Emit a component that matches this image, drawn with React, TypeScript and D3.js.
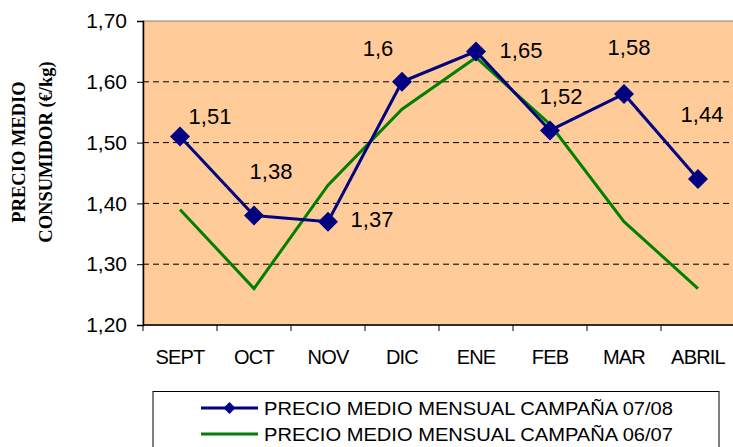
import React, { useEffect, useRef } from "react";
import * as d3 from "d3";

const months = ["SEPT", "OCT", "NOV", "DIC", "ENE", "FEB", "MAR", "ABRIL"];
const campaign0708 = [1.51, 1.38, 1.37, 1.6, 1.65, 1.52, 1.58, 1.44];
const campaign0607 = [1.39, 1.26, 1.43, 1.555, 1.64, 1.53, 1.37, 1.26];
const yTicks = [1.2, 1.3, 1.4, 1.5, 1.6, 1.7];
const labels0708 = ["1,51", "1,38", "1,37", "1,6", "1,65", "1,52", "1,58", "1,44"];
const seriesNames = [
  "PRECIO MEDIO MENSUAL CAMPAÑA 07/08",
  "PRECIO MEDIO MENSUAL CAMPAÑA 06/07",
];
// desplazamiento de cada etiqueta respecto a su punto (como en el original)
const labelOffsets: [number, number][] = [
  [30, -20],
  [17, -44],
  [44, -2],
  [-24, -33],
  [45, -1],
  [11, -34],
  [5, -46],
  [4, -65],
];

const App: React.FC = () => {
  const ref = useRef<SVGSVGElement | null>(null);

  useEffect(() => {
    if (!ref.current) return;
    const svg = d3.select(ref.current);
    svg.selectAll("*").remove();

    const left = 143;
    const right = 735;
    const top = 21;
    const bottom = 325;

    const x = d3.scaleBand<string>().domain(months).range([left, right]);
    const y = d3.scaleLinear().domain([1.2, 1.7]).range([bottom, top]);
    const cx = (i: number) => (x(months[i]) as number) + x.bandwidth() / 2;

    const locale = d3.formatLocale({
      decimal: ",",
      thousands: ".",
      grouping: [3],
      currency: ["", "€"],
    });
    const fmt = locale.format(".2f");

    // fondo del área de trazado
    svg
      .append("rect")
      .attr("x", left)
      .attr("y", top)
      .attr("width", right - left)
      .attr("height", bottom - top)
      .attr("fill", "#FFCC99")
      .attr("stroke", "#808080")
      .attr("stroke-width", 1);

    // líneas de división
    svg
      .append("g")
      .selectAll("line")
      .data(yTicks.filter((t) => t > 1.2 && t < 1.7))
      .join("line")
      .attr("x1", left)
      .attr("x2", right)
      .attr("y1", (d) => y(d))
      .attr("y2", (d) => y(d))
      .attr("stroke", "#000")
      .attr("stroke-width", 1)
      .attr("stroke-dasharray", "6,4");

    // eje Y
    const yAxis = svg
      .append("g")
      .attr("transform", `translate(${left},0)`)
      .call(
        d3
          .axisLeft(y)
          .tickValues(yTicks)
          .tickFormat((d) => fmt(d as number))
          .tickSize(6)
          .tickPadding(10)
      );
    yAxis.select(".domain").attr("stroke", "#000").attr("stroke-width", 1.5);
    yAxis.selectAll(".tick line").attr("stroke", "#000");
    yAxis
      .selectAll(".tick text")
      .attr("font-family", "Arial, 'Liberation Sans', sans-serif")
      .attr("font-size", 21)
      .attr("fill", "#000");

    // eje X
    const xAxis = svg
      .append("g")
      .attr("transform", `translate(0,${bottom})`);
    xAxis
      .append("line")
      .attr("x1", left)
      .attr("x2", right)
      .attr("stroke", "#000")
      .attr("stroke-width", 1.5);
    xAxis
      .selectAll(".tk")
      .data(months)
      .join("line")
      .attr("class", "tk")
      .attr("x1", (d) => x(d) as number)
      .attr("x2", (d) => x(d) as number)
      .attr("y1", 0)
      .attr("y2", 6)
      .attr("stroke", "#000");
    xAxis
      .selectAll("text")
      .data(months)
      .join("text")
      .attr("x", (_, i) => cx(i))
      .attr("y", 39)
      .attr("text-anchor", "middle")
      .attr("font-family", "Arial, 'Liberation Sans', sans-serif")
      .attr("font-size", 20)
      .attr("letter-spacing", -0.8)
      .text((d) => d);

    // título del eje Y
    const title = svg
      .append("text")
      .attr("transform", `translate(0,152) rotate(-90)`)
      .attr("text-anchor", "middle")
      .attr("font-family", "'Times New Roman', 'Liberation Serif', serif")
      .attr("font-weight", "bold")
      .attr("font-size", 18.5);
    title.append("tspan").attr("x", 0).attr("y", 25).text("PRECIO MEDIO");
    title.append("tspan").attr("x", 0).attr("y", 52).text("CONSUMIDOR (€/kg)");

    const line = d3
      .line<number>()
      .x((_, i) => cx(i))
      .y((d) => y(d));

    svg
      .append("path")
      .datum(campaign0607)
      .attr("fill", "none")
      .attr("stroke", "#008000")
      .attr("stroke-width", 3)
      .attr("d", line);

    svg
      .append("path")
      .datum(campaign0708)
      .attr("fill", "none")
      .attr("stroke", "#000080")
      .attr("stroke-width", 3)
      .attr("d", line);

    const diamond = (r: number) => `M0,${-r}L${r},0L0,${r}L${-r},0Z`;

    svg
      .append("g")
      .selectAll("path")
      .data(campaign0708)
      .join("path")
      .attr("transform", (d, i) => `translate(${cx(i)},${y(d)})`)
      .attr("d", diamond(10))
      .attr("fill", "#000080");

    svg
      .append("g")
      .selectAll("text")
      .data(campaign0708)
      .join("text")
      .attr("x", (_, i) => cx(i) + labelOffsets[i][0])
      .attr("y", (d, i) => y(d) + labelOffsets[i][1])
      .attr("text-anchor", "middle")
      .attr("dominant-baseline", "central")
      .attr("font-family", "Arial, 'Liberation Sans', sans-serif")
      .attr("font-size", 22)
      .text((_, i) => labels0708[i]);

    // leyenda
    const legend = svg.append("g");
    legend
      .append("rect")
      .attr("x", 153)
      .attr("y", 391.5)
      .attr("width", 566)
      .attr("height", 80)
      .attr("fill", "#fff")
      .attr("stroke", "#000")
      .attr("stroke-width", 1);
    const colors = ["#000080", "#008000"];
    seriesNames.forEach((name, i) => {
      const ly = 408 + i * 26;
      legend
        .append("line")
        .attr("x1", 201)
        .attr("x2", 258)
        .attr("y1", ly)
        .attr("y2", ly)
        .attr("stroke", colors[i])
        .attr("stroke-width", 3);
      if (i === 0) {
        legend
          .append("path")
          .attr("transform", `translate(229.5,${ly})`)
          .attr("d", diamond(6))
          .attr("fill", colors[i]);
      }
      legend
        .append("text")
        .attr("x", 264)
        .attr("y", ly)
        .attr("dominant-baseline", "central")
        .attr("font-family", "Arial, 'Liberation Sans', sans-serif")
        .attr("font-size", 19)
        .attr("textLength", 409)
        .attr("lengthAdjust", "spacingAndGlyphs")
        .text(name);
    });
  }, []);

  return (
    <svg
      ref={ref}
      width={733}
      height={447}
      style={{ position: "absolute", left: 0, top: 0, background: "#fff" }}
    />
  );
};

export default App;
